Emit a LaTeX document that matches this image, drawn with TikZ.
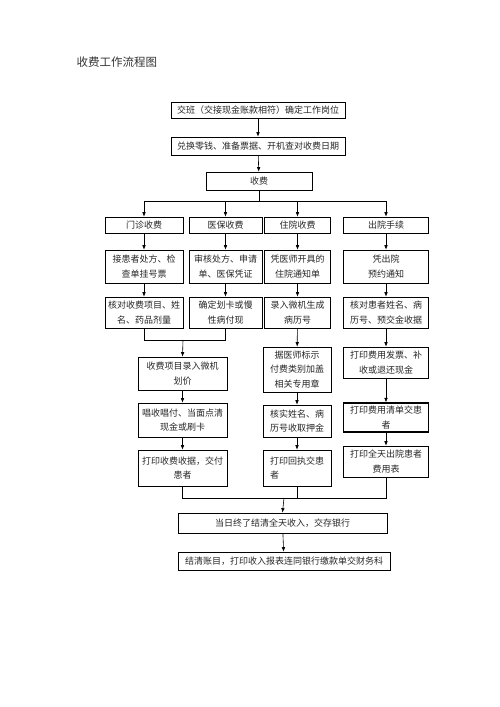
\documentclass[tikz,border=0pt]{standalone}
\usepackage{fontspec}
\setmainfont{Noto Sans CJK SC}
\usetikzlibrary{arrows.meta}
\begin{document}
\begin{tikzpicture}[x=1pt,y=-1pt,
  box/.style={draw=black, line width=0.6pt, inner sep=0pt, align=center,
    font=\fontsize{9}{14.5}\selectfont, text=black!85},
  arr/.style={line width=0.6pt, -{Latex[length=4.5pt,width=3.6pt]}},
  ln/.style={line width=0.6pt}]
\useasboundingbox (0,0) rectangle (500,707);
\node[anchor=west, font=\fontsize{11.5}{13}\selectfont, text=black!80] (title) at (73,62) {收费工作流程图};
% top chain
\node[box, minimum width=174pt, minimum height=16pt] (b1) at (258,110) {交班（交接现金账款相符）确定工作岗位};
\node[box, minimum width=174pt, minimum height=18pt] (b2) at (258,146) {兑换零钱、准备票据、开机查对收费日期};
\node[box, minimum width=106pt, minimum height=18pt] (b3) at (259,181) {收费};
% row A
\node[box, minimum width=78pt, minimum height=16pt] (a1) at (144,225) {门诊收费};
\node[box, minimum width=73pt, minimum height=16pt] (a2) at (225.5,225) {医保收费};
\node[box, minimum width=66pt, minimum height=16pt] (a3) at (297.5,225) {住院收费};
\node[box, minimum width=85pt, minimum height=16pt] (a4) at (386,225) {出院手续};
% row B
\node[box, minimum width=78pt, minimum height=33pt] (r1) at (144,266.5) {接患者处方、检\\查单挂号票};
\node[box, minimum width=73pt, minimum height=33pt] (r2) at (225.5,266.5) {审核处方、申请\\单、医保凭证};
\node[box, minimum width=66pt, minimum height=33pt] (r3) at (297.5,266.5) {凭医师开具的\\住院通知单};
\node[box, minimum width=85pt, minimum height=33pt] (r4) at (386,266.5) {凭出院\\预约通知};
% row C
\node[box, minimum width=78pt, minimum height=31pt] (c1) at (144,312.5) {核对收费项目、姓\\名、药品剂量};
\node[box, minimum width=73pt, minimum height=31pt] (c2) at (225.5,312.5) {确定划卡或慢\\性病付现};
\node[box, minimum width=66pt, minimum height=31pt] (c3) at (297.5,312.5) {录入微机生成\\病历号};
\node[box, minimum width=85pt, minimum height=31pt] (c4) at (386,312.5) {核对患者姓名、病\\历号、预交金收据};
% column 1 lower
\node[box, minimum width=89pt, minimum height=33pt] (d1) at (182.5,373.5) {收费项目录入微机\\划价};
\node[box, minimum width=89pt, minimum height=34pt] (e1) at (182.5,420) {唱收唱付、当面点清\\现金或刷卡};
\node[box, minimum width=89pt, minimum height=36pt] (f1) at (182.5,468) {打印收费收据，交付\\患者};
% column 3 lower
\node[box, minimum width=68pt, minimum height=45pt] (d3) at (297,369.5) {据医师标示\\付费类别加盖\\相关专用章};
\node[box, minimum width=68pt, minimum height=32pt] (e3) at (297,421) {核实姓名、病\\历号收取押金};
\node[box, minimum width=68pt, minimum height=36pt, align=left] (f3) at (297,468) {打印回执交患\\者};
% column 4 lower
\node[box, minimum width=85pt, minimum height=31pt] (d4) at (386,362.5) {打印费用发票、补\\收或退还现金};
\node[box, line width=1.2pt, minimum width=85pt, minimum height=29pt] (e4) at (386,417.5) {打印费用清单交患\\者};
\node[box, minimum width=85pt, minimum height=31pt] (f4) at (386,461.5) {打印全天出院患者\\费用表};
% bottom
\node[box, minimum width=209pt, minimum height=20pt] (g) at (282.5,523) {当日终了结清全天收入，交存银行};
\node[box, minimum width=212pt, minimum height=18pt] (h) at (284,561) {结清账目，打印收入报表连同银行缴款单交财务科};
% coordinates
\coordinate (s1) at (259,201);
\coordinate (j1) at (183,340);
\coordinate (j2) at (284,498);
% connectors
\draw[arr] (b1) -- (b2);
\draw[arr] (b2) -- (b3);
\draw[ln] (b3.south) -- (s1);
\draw[ln] (a1.north |- s1) -- (a4.north |- s1);
\foreach \n in {a1,a2,a3,a4} \draw[arr] (\n.north |- s1) -- (\n.north);
\draw[arr] (a1) -- (r1); \draw[arr] (a2) -- (r2); \draw[arr] (a3) -- (r3); \draw[arr] (a4) -- (r4);
\draw[arr] (r1) -- (c1); \draw[arr] (r2) -- (c2); \draw[arr] (r3) -- (c3); \draw[arr] (r4) -- (c4);
\draw[ln] (c1.south) -- (c1.south |- j1) -- (c2.south |- j1) -- (c2.south);
\draw[arr] (j1) -- (d1.north);
\draw[arr] (d1) -- (e1); \draw[arr] (e1) -- (f1);
\draw[arr] (c3) -- (d3); \draw[arr] (d3) -- (e3); \draw[arr] (e3) -- (f3);
\draw[arr] (c4) -- (d4); \draw[arr] (d4) -- (e4); \draw[arr] (e4) -- (f4);
\draw[ln] (f1.south) -- (f1.south |- j2) -- (f4.south |- j2) -- (f4.south);
\draw[ln] (f3.south) -- (f3.south |- j2);
\draw[arr] (j2) -- (g.north);
\draw[arr] (g) -- (h);
\end{tikzpicture}
\end{document}
